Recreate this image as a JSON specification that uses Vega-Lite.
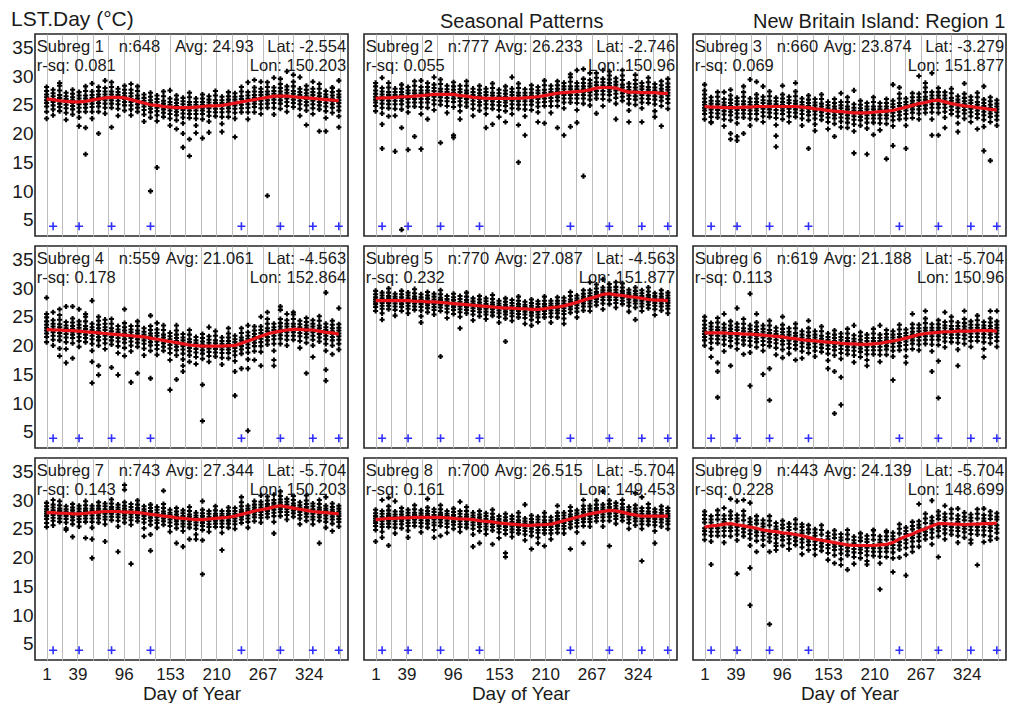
{
"$schema": "https://vega.github.io/schema/vega-lite/v6.json",
"padding": {"left": 10, "top": 8, "right": 0, "bottom": 0},
"background": "white",
"data": {"values": [
{"k":"pt","p":1,"d":1,"s":26.0,"v":[28.1,27.4,26.8,26.3,25.8,25.3,24.7,23.8,22.6]},
{"k":"pt","p":1,"d":9,"s":25.9,"v":[27.6,27.0,26.5,26.0,25.5,24.9,24.2,23.2]},
{"k":"pt","p":1,"d":17,"s":25.7,"v":[28.3,27.5,26.7,26.2,25.7,25.2,24.6,23.9,28.8]},
{"k":"pt","p":1,"d":25,"s":25.6,"v":[27.1,26.5,26.0,25.5,25.0,24.4,23.6,22.4]},
{"k":"pt","p":1,"d":33,"s":25.5,"v":[27.6,26.9,26.3,25.8,25.3,24.8,24.2,23.3]},
{"k":"pt","p":1,"d":41,"s":25.5,"v":[27.2,26.6,26.1,25.6,25.1,24.5,23.8,22.8,21.3]},
{"k":"pt","p":1,"d":49,"s":25.6,"v":[28.2,27.4,26.6,26.1,25.6,25.1,24.5,23.8,16.4,21.0]},
{"k":"pt","p":1,"d":57,"s":25.8,"v":[27.3,26.7,26.2,25.7,25.2,24.6,23.8,22.6,28.7]},
{"k":"pt","p":1,"d":65,"s":26.0,"v":[28.1,27.4,26.8,26.3,25.8,25.3,24.7,23.8,20.0]},
{"k":"pt","p":1,"d":73,"s":26.2,"v":[27.9,27.3,26.8,26.3,25.8,25.2,24.5,23.5,29.2]},
{"k":"pt","p":1,"d":81,"s":26.3,"v":[28.9,28.1,27.3,26.8,26.3,25.8,25.2,24.5,21.1]},
{"k":"pt","p":1,"d":89,"s":26.3,"v":[27.8,27.2,26.7,26.2,25.7,25.1,24.3,23.1]},
{"k":"pt","p":1,"d":97,"s":26.2,"v":[28.3,27.6,27.0,26.5,26.0,25.5,24.9,24.0]},
{"k":"pt","p":1,"d":105,"s":25.9,"v":[27.6,27.0,26.5,26.0,25.5,24.9,24.2,23.2,28.6]},
{"k":"pt","p":1,"d":113,"s":25.6,"v":[28.2,27.4,26.6,26.1,25.6,25.1,24.5,23.8]},
{"k":"pt","p":1,"d":121,"s":25.3,"v":[26.8,26.2,25.7,25.2,24.7,24.1,23.3,22.1]},
{"k":"pt","p":1,"d":129,"s":25.0,"v":[27.1,26.4,25.8,25.3,24.8,24.3,23.7,22.8,10.0]},
{"k":"pt","p":1,"d":137,"s":24.9,"v":[26.6,26.0,25.5,25.0,24.5,23.9,23.2,22.2,14.1]},
{"k":"pt","p":1,"d":145,"s":24.7,"v":[27.3,26.5,25.7,25.2,24.7,24.2,23.6,22.9]},
{"k":"pt","p":1,"d":153,"s":24.6,"v":[26.1,25.5,25.0,24.5,24.0,23.4,22.6,21.4,27.5]},
{"k":"pt","p":1,"d":161,"s":24.5,"v":[26.6,25.9,25.3,24.8,24.3,23.8,23.2,22.3,20.8]},
{"k":"pt","p":1,"d":169,"s":24.5,"v":[26.2,25.6,25.1,24.6,24.1,23.5,22.8,21.8,17.6,20.0]},
{"k":"pt","p":1,"d":177,"s":24.5,"v":[27.1,26.3,25.5,25.0,24.5,24.0,23.4,22.7,16.1,19.0]},
{"k":"pt","p":1,"d":185,"s":24.6,"v":[26.1,25.5,25.0,24.5,24.0,23.4,22.6,21.4,20.1]},
{"k":"pt","p":1,"d":193,"s":24.7,"v":[26.8,26.1,25.5,25.0,24.5,24.0,23.4,22.5,19.2]},
{"k":"pt","p":1,"d":201,"s":24.8,"v":[26.5,25.9,25.4,24.9,24.4,23.8,23.1,22.1,20.2]},
{"k":"pt","p":1,"d":209,"s":24.8,"v":[27.4,26.6,25.8,25.3,24.8,24.3,23.7,23.0]},
{"k":"pt","p":1,"d":217,"s":24.9,"v":[26.4,25.8,25.3,24.8,24.3,23.7,22.9,21.7,20.3]},
{"k":"pt","p":1,"d":225,"s":25.1,"v":[27.2,26.5,25.9,25.4,24.9,24.4,23.8,22.9]},
{"k":"pt","p":1,"d":233,"s":25.3,"v":[27.0,26.4,25.9,25.4,24.9,24.3,23.6,22.6,19.4]},
{"k":"pt","p":1,"d":241,"s":25.5,"v":[28.1,27.3,26.5,26.0,25.5,25.0,24.4,23.7]},
{"k":"pt","p":1,"d":249,"s":25.7,"v":[27.2,26.6,26.1,25.6,25.1,24.5,23.7,22.5,28.9]},
{"k":"pt","p":1,"d":257,"s":25.9,"v":[28.0,27.3,26.7,26.2,25.7,25.2,24.6,23.7,29.3]},
{"k":"pt","p":1,"d":265,"s":26.1,"v":[27.8,27.2,26.7,26.2,25.7,25.1,24.4,23.4,29.0]},
{"k":"pt","p":1,"d":273,"s":26.3,"v":[28.9,28.1,27.3,26.8,26.3,25.8,25.2,24.5,9.2]},
{"k":"pt","p":1,"d":281,"s":26.5,"v":[28.0,27.4,26.9,26.4,25.9,25.3,24.5,23.3,29.7]},
{"k":"pt","p":1,"d":289,"s":26.5,"v":[28.6,27.9,27.3,26.8,26.3,25.8,25.2,24.3,29.5]},
{"k":"pt","p":1,"d":297,"s":26.5,"v":[28.2,27.6,27.1,26.6,26.1,25.5,24.8,23.8,30.8]},
{"k":"pt","p":1,"d":305,"s":26.4,"v":[29.0,28.2,27.4,26.9,26.4,25.9,25.3,24.6,30.2]},
{"k":"pt","p":1,"d":313,"s":26.3,"v":[27.8,27.2,26.7,26.2,25.7,25.1,24.3,23.1,29.8]},
{"k":"pt","p":1,"d":321,"s":26.2,"v":[28.3,27.6,27.0,26.5,26.0,25.5,24.9,24.0,21.5]},
{"k":"pt","p":1,"d":329,"s":26.1,"v":[27.8,27.2,26.7,26.2,25.7,25.1,24.4,23.4,29.0]},
{"k":"pt","p":1,"d":337,"s":26.0,"v":[28.6,27.8,27.0,26.5,26.0,25.5,24.9,24.2,20.4]},
{"k":"pt","p":1,"d":345,"s":25.9,"v":[27.4,26.8,26.3,25.8,25.3,24.7,23.9,22.7,20.4]},
{"k":"pt","p":1,"d":353,"s":25.8,"v":[27.9,27.2,26.6,26.1,25.6,25.1,24.5,23.6,28.0]},
{"k":"pt","p":1,"d":361,"s":25.7,"v":[27.4,26.8,26.3,25.8,25.3,24.7,24.0,23.0,29.2,21.1]},

{"k":"pt","p":2,"d":1,"s":26.1,"v":[28.2,27.5,26.9,26.4,25.9,25.4,24.8,23.9,28.8]},
{"k":"pt","p":2,"d":9,"s":26.2,"v":[27.9,27.3,26.8,26.3,25.8,25.2,24.5,23.5,21.6,17.4,29.7]},
{"k":"pt","p":2,"d":17,"s":26.2,"v":[28.8,28.0,27.2,26.7,26.2,25.7,25.1,24.4,23.0]},
{"k":"pt","p":2,"d":25,"s":26.3,"v":[27.8,27.2,26.7,26.2,25.7,25.1,24.3,23.1,16.9]},
{"k":"pt","p":2,"d":33,"s":26.4,"v":[28.5,27.8,27.2,26.7,26.2,25.7,25.1,24.2,21.0,3.3]},
{"k":"pt","p":2,"d":41,"s":26.4,"v":[28.1,27.5,27.0,26.5,26.0,25.4,24.7,23.7,17.2]},
{"k":"pt","p":2,"d":49,"s":26.5,"v":[29.1,28.3,27.5,27.0,26.5,26.0,25.4,24.7,19.5]},
{"k":"pt","p":2,"d":57,"s":26.6,"v":[28.1,27.5,27.0,26.5,26.0,25.4,24.6,23.4,17.3,29.2]},
{"k":"pt","p":2,"d":65,"s":26.7,"v":[28.8,28.1,27.5,27.0,26.5,26.0,25.4,24.5,22.5]},
{"k":"pt","p":2,"d":73,"s":26.8,"v":[28.5,27.9,27.4,26.9,26.4,25.8,25.1,24.1,29.8]},
{"k":"pt","p":2,"d":81,"s":26.8,"v":[29.4,28.6,27.8,27.3,26.8,26.3,25.7,25.0,18.4]},
{"k":"pt","p":2,"d":89,"s":26.8,"v":[28.3,27.7,27.2,26.7,26.2,25.6,24.8,23.6]},
{"k":"pt","p":2,"d":97,"s":26.8,"v":[28.9,28.2,27.6,27.1,26.6,26.1,25.5,24.6,19.7,19.3]},
{"k":"pt","p":2,"d":105,"s":26.6,"v":[28.3,27.7,27.2,26.7,26.2,25.6,24.9,23.9,22.5]},
{"k":"pt","p":2,"d":113,"s":26.5,"v":[29.1,28.3,27.5,27.0,26.5,26.0,25.4,24.7]},
{"k":"pt","p":2,"d":121,"s":26.3,"v":[27.8,27.2,26.7,26.2,25.7,25.1,24.3,23.1]},
{"k":"pt","p":2,"d":129,"s":26.2,"v":[28.3,27.6,27.0,26.5,26.0,25.5,24.9,24.0]},
{"k":"pt","p":2,"d":137,"s":26.1,"v":[27.8,27.2,26.7,26.2,25.7,25.1,24.4,23.4,21.0]},
{"k":"pt","p":2,"d":145,"s":26.1,"v":[28.7,27.9,27.1,26.6,26.1,25.6,25.0,24.3,21.6]},
{"k":"pt","p":2,"d":153,"s":26.1,"v":[27.6,27.0,26.5,26.0,25.5,24.9,24.1,22.9]},
{"k":"pt","p":2,"d":161,"s":26.1,"v":[28.2,27.5,26.9,26.4,25.9,25.4,24.8,23.9,22.0]},
{"k":"pt","p":2,"d":169,"s":26.1,"v":[27.8,27.2,26.7,26.2,25.7,25.1,24.4,23.4,29.8]},
{"k":"pt","p":2,"d":177,"s":26.1,"v":[28.7,27.9,27.1,26.6,26.1,25.6,25.0,24.3,15.0,21.5]},
{"k":"pt","p":2,"d":185,"s":26.2,"v":[27.7,27.1,26.6,26.1,25.6,25.0,24.2,23.0,19.7]},
{"k":"pt","p":2,"d":193,"s":26.3,"v":[28.4,27.7,27.1,26.6,26.1,25.6,25.0,24.1]},
{"k":"pt","p":2,"d":201,"s":26.4,"v":[28.1,27.5,27.0,26.5,26.0,25.4,24.7,23.7,22.0]},
{"k":"pt","p":2,"d":209,"s":26.6,"v":[29.2,28.4,27.6,27.1,26.6,26.1,25.5,24.8,21.8]},
{"k":"pt","p":2,"d":217,"s":26.8,"v":[28.3,27.7,27.2,26.7,26.2,25.6,24.8,23.6]},
{"k":"pt","p":2,"d":225,"s":27.0,"v":[29.1,28.4,27.8,27.3,26.8,26.3,25.7,24.8,21.0]},
{"k":"pt","p":2,"d":233,"s":27.1,"v":[28.8,28.2,27.7,27.2,26.7,26.1,25.4,24.4,19.7]},
{"k":"pt","p":2,"d":241,"s":27.2,"v":[29.8,29.0,28.2,27.7,27.2,26.7,26.1,25.4,21.2,30.3]},
{"k":"pt","p":2,"d":249,"s":27.3,"v":[28.8,28.2,27.7,27.2,26.7,26.1,25.3,24.1,21.9,31.0]},
{"k":"pt","p":2,"d":257,"s":27.4,"v":[29.5,28.8,28.2,27.7,27.2,26.7,26.1,25.2,12.6,31.2]},
{"k":"pt","p":2,"d":265,"s":27.6,"v":[29.3,28.7,28.2,27.7,27.2,26.6,25.9,24.9,30.5]},
{"k":"pt","p":2,"d":273,"s":27.9,"v":[30.5,29.7,28.9,28.4,27.9,27.4,26.8,26.1,23.5]},
{"k":"pt","p":2,"d":281,"s":28.0,"v":[29.5,28.9,28.4,27.9,27.4,26.8,26.0,24.8,31.0]},
{"k":"pt","p":2,"d":289,"s":28.0,"v":[30.1,29.4,28.8,28.3,27.8,27.3,26.7,25.8,30.8]},
{"k":"pt","p":2,"d":297,"s":27.9,"v":[29.6,29.0,28.5,28.0,27.5,26.9,26.2,25.2,22.5]},
{"k":"pt","p":2,"d":305,"s":27.5,"v":[30.1,29.3,28.5,28.0,27.5,27.0,26.4,25.7,31.0]},
{"k":"pt","p":2,"d":313,"s":27.2,"v":[28.7,28.1,27.6,27.1,26.6,26.0,25.2,24.0,22.0]},
{"k":"pt","p":2,"d":321,"s":27.2,"v":[29.3,28.6,28.0,27.5,27.0,26.5,25.9,25.0,30.2]},
{"k":"pt","p":2,"d":329,"s":27.1,"v":[28.8,28.2,27.7,27.2,26.7,26.1,25.4,24.4,22.0]},
{"k":"pt","p":2,"d":337,"s":27.1,"v":[29.7,28.9,28.1,27.6,27.1,26.6,26.0,25.3]},
{"k":"pt","p":2,"d":345,"s":27.1,"v":[28.6,28.0,27.5,27.0,26.5,25.9,25.1,23.9,22.9]},
{"k":"pt","p":2,"d":353,"s":27.0,"v":[29.1,28.4,27.8,27.3,26.8,26.3,25.7,24.8,21.3]},
{"k":"pt","p":2,"d":361,"s":27.0,"v":[28.7,28.1,27.6,27.1,26.6,26.0,25.3,24.3,29.5]},

{"k":"pt","p":3,"d":1,"s":24.7,"v":[26.8,26.1,25.5,25.0,24.5,24.0,23.4,22.5,28.5,27.5]},
{"k":"pt","p":3,"d":9,"s":24.6,"v":[26.3,25.7,25.2,24.7,24.2,23.6,22.9,21.9,22.0]},
{"k":"pt","p":3,"d":17,"s":24.6,"v":[27.2,26.4,25.6,25.1,24.6,24.1,23.5,22.8]},
{"k":"pt","p":3,"d":25,"s":24.5,"v":[26.0,25.4,24.9,24.4,23.9,23.3,22.5,21.3,27.2]},
{"k":"pt","p":3,"d":33,"s":24.5,"v":[26.6,25.9,25.3,24.8,24.3,23.8,23.2,22.3,19.0,20.0,27.6]},
{"k":"pt","p":3,"d":41,"s":24.5,"v":[26.2,25.6,25.1,24.6,24.1,23.5,22.8,21.8,19.5,18.8]},
{"k":"pt","p":3,"d":49,"s":24.6,"v":[27.2,26.4,25.6,25.1,24.6,24.1,23.5,22.8,20.0,28.2]},
{"k":"pt","p":3,"d":57,"s":24.6,"v":[26.1,25.5,25.0,24.5,24.0,23.4,22.6,21.4,29.4]},
{"k":"pt","p":3,"d":65,"s":24.7,"v":[26.8,26.1,25.5,25.0,24.5,24.0,23.4,22.5,29.0]},
{"k":"pt","p":3,"d":73,"s":24.7,"v":[26.4,25.8,25.3,24.8,24.3,23.7,23.0,22.0,28.2]},
{"k":"pt","p":3,"d":81,"s":24.7,"v":[27.3,26.5,25.7,25.2,24.7,24.2,23.6,22.9]},
{"k":"pt","p":3,"d":89,"s":24.7,"v":[26.2,25.6,25.1,24.6,24.1,23.5,22.7,21.5,17.7,19.6]},
{"k":"pt","p":3,"d":97,"s":24.7,"v":[26.8,26.1,25.5,25.0,24.5,24.0,23.4,22.5,28.3]},
{"k":"pt","p":3,"d":105,"s":24.7,"v":[26.4,25.8,25.3,24.8,24.3,23.7,23.0,22.0]},
{"k":"pt","p":3,"d":113,"s":24.7,"v":[27.3,26.5,25.7,25.2,24.7,24.2,23.6,22.9,28.8]},
{"k":"pt","p":3,"d":121,"s":24.6,"v":[26.1,25.5,25.0,24.5,24.0,23.4,22.6,21.4]},
{"k":"pt","p":3,"d":129,"s":24.5,"v":[26.6,25.9,25.3,24.8,24.3,23.8,23.2,22.3,17.4]},
{"k":"pt","p":3,"d":137,"s":24.3,"v":[26.0,25.4,24.9,24.4,23.9,23.3,22.6,21.6,20.5]},
{"k":"pt","p":3,"d":145,"s":24.2,"v":[26.8,26.0,25.2,24.7,24.2,23.7,23.1,22.4]},
{"k":"pt","p":3,"d":153,"s":24.0,"v":[25.5,24.9,24.4,23.9,23.4,22.8,22.0,20.8]},
{"k":"pt","p":3,"d":161,"s":23.9,"v":[26.0,25.3,24.7,24.2,23.7,23.2,22.6,21.7,19.5]},
{"k":"pt","p":3,"d":169,"s":23.8,"v":[25.5,24.9,24.4,23.9,23.4,22.8,22.1,21.1,27.0]},
{"k":"pt","p":3,"d":177,"s":23.7,"v":[26.3,25.5,24.7,24.2,23.7,23.2,22.6,21.9,21.0]},
{"k":"pt","p":3,"d":185,"s":23.6,"v":[25.1,24.5,24.0,23.5,23.0,22.4,21.6,20.4,16.6,27.5]},
{"k":"pt","p":3,"d":193,"s":23.6,"v":[25.7,25.0,24.4,23.9,23.4,22.9,22.3,21.4]},
{"k":"pt","p":3,"d":201,"s":23.6,"v":[25.3,24.7,24.2,23.7,23.2,22.6,21.9,20.9,16.4]},
{"k":"pt","p":3,"d":209,"s":23.7,"v":[26.3,25.5,24.7,24.2,23.7,23.2,22.6,21.9,19.8]},
{"k":"pt","p":3,"d":217,"s":23.8,"v":[25.3,24.7,24.2,23.7,23.2,22.6,21.8,20.6]},
{"k":"pt","p":3,"d":225,"s":23.9,"v":[26.0,25.3,24.7,24.2,23.7,23.2,22.6,21.7,15.6]},
{"k":"pt","p":3,"d":233,"s":24.0,"v":[25.7,25.1,24.6,24.1,23.6,23.0,22.3,21.3,17.9,28.5]},
{"k":"pt","p":3,"d":241,"s":24.3,"v":[26.9,26.1,25.3,24.8,24.3,23.8,23.2,22.5,28.0]},
{"k":"pt","p":3,"d":249,"s":24.6,"v":[26.1,25.5,25.0,24.5,24.0,23.4,22.6,21.4,17.4]},
{"k":"pt","p":3,"d":257,"s":24.9,"v":[27.0,26.3,25.7,25.2,24.7,24.2,23.6,22.7]},
{"k":"pt","p":3,"d":265,"s":25.2,"v":[26.9,26.3,25.8,25.3,24.8,24.2,23.5,22.5,30.0]},
{"k":"pt","p":3,"d":273,"s":25.4,"v":[28.0,27.2,26.4,25.9,25.4,24.9,24.3,23.6,28.8]},
{"k":"pt","p":3,"d":281,"s":25.7,"v":[27.2,26.6,26.1,25.6,25.1,24.5,23.7,22.5,30.5,19.7]},
{"k":"pt","p":3,"d":289,"s":25.8,"v":[27.9,27.2,26.6,26.1,25.6,25.1,24.5,23.6,19.7]},
{"k":"pt","p":3,"d":297,"s":25.5,"v":[27.2,26.6,26.1,25.6,25.1,24.5,23.8,22.8,21.0]},
{"k":"pt","p":3,"d":305,"s":25.2,"v":[27.8,27.0,26.2,25.7,25.2,24.7,24.1,23.4]},
{"k":"pt","p":3,"d":313,"s":25.0,"v":[26.5,25.9,25.4,24.9,24.4,23.8,23.0,21.8,20.3]},
{"k":"pt","p":3,"d":321,"s":24.8,"v":[26.9,26.2,25.6,25.1,24.6,24.1,23.5,22.6,28.7]},
{"k":"pt","p":3,"d":329,"s":24.7,"v":[26.4,25.8,25.3,24.8,24.3,23.7,23.0,22.0]},
{"k":"pt","p":3,"d":337,"s":24.5,"v":[27.1,26.3,25.5,25.0,24.5,24.0,23.4,22.7,20.8]},
{"k":"pt","p":3,"d":345,"s":24.4,"v":[25.9,25.3,24.8,24.3,23.8,23.2,22.4,21.2,17.0,28.2]},
{"k":"pt","p":3,"d":353,"s":24.2,"v":[26.3,25.6,25.0,24.5,24.0,23.5,22.9,22.0,15.3]},
{"k":"pt","p":3,"d":361,"s":24.1,"v":[25.8,25.2,24.7,24.2,23.7,23.1,22.4,21.4]},

{"k":"pt","p":4,"d":1,"s":22.8,"v":[24.9,24.2,23.6,23.1,22.6,22.1,21.5,20.6,28.3,25.5]},
{"k":"pt","p":4,"d":9,"s":22.7,"v":[24.4,23.8,23.3,22.8,22.3,21.7,21.0,20.0,25.8]},
{"k":"pt","p":4,"d":17,"s":22.7,"v":[25.3,24.5,23.7,23.2,22.7,22.2,21.6,20.9,26.3,18.2,19.5]},
{"k":"pt","p":4,"d":25,"s":22.6,"v":[24.1,23.5,23.0,22.5,22.0,21.4,20.6,19.4,17.0,26.8]},
{"k":"pt","p":4,"d":33,"s":22.6,"v":[24.7,24.0,23.4,22.9,22.4,21.9,21.3,20.4,26.8,17.8]},
{"k":"pt","p":4,"d":41,"s":22.5,"v":[24.2,23.6,23.1,22.6,22.1,21.5,20.8,19.8,26.3]},
{"k":"pt","p":4,"d":49,"s":22.4,"v":[25.0,24.2,23.4,22.9,22.4,21.9,21.3,20.6,25.5]},
{"k":"pt","p":4,"d":57,"s":22.3,"v":[23.8,23.2,22.7,22.2,21.7,21.1,20.3,19.1,27.8,13.5,17.2]},
{"k":"pt","p":4,"d":65,"s":22.2,"v":[24.3,23.6,23.0,22.5,22.0,21.5,20.9,20.0,14.9,16.5,25.0]},
{"k":"pt","p":4,"d":73,"s":22.1,"v":[23.8,23.2,22.7,22.2,21.7,21.1,20.4,19.4,24.5]},
{"k":"pt","p":4,"d":81,"s":22.0,"v":[24.6,23.8,23.0,22.5,22.0,21.5,20.9,20.2,16.2]},
{"k":"pt","p":4,"d":89,"s":21.9,"v":[23.4,22.8,22.3,21.8,21.3,20.7,19.9,18.7,14.9]},
{"k":"pt","p":4,"d":97,"s":21.8,"v":[23.9,23.2,22.6,22.1,21.6,21.1,20.5,19.6,26.3,18.2]},
{"k":"pt","p":4,"d":105,"s":21.7,"v":[23.4,22.8,22.3,21.8,21.3,20.7,20.0,19.0,13.6]},
{"k":"pt","p":4,"d":113,"s":21.6,"v":[24.2,23.4,22.6,22.1,21.6,21.1,20.5,19.8,15.2]},
{"k":"pt","p":4,"d":121,"s":21.5,"v":[23.0,22.4,21.9,21.4,20.9,20.3,19.5,18.3]},
{"k":"pt","p":4,"d":129,"s":21.3,"v":[23.4,22.7,22.1,21.6,21.1,20.6,20.0,19.1,14.3,25.2]},
{"k":"pt","p":4,"d":137,"s":21.1,"v":[22.8,22.2,21.7,21.2,20.7,20.1,19.4,18.4,23.9]},
{"k":"pt","p":4,"d":145,"s":20.9,"v":[23.5,22.7,21.9,21.4,20.9,20.4,19.8,19.1]},
{"k":"pt","p":4,"d":153,"s":20.7,"v":[22.2,21.6,21.1,20.6,20.1,19.5,18.7,17.5,12.3]},
{"k":"pt","p":4,"d":161,"s":20.5,"v":[22.6,21.9,21.3,20.8,20.3,19.8,19.2,18.3,14.1,23.5]},
{"k":"pt","p":4,"d":169,"s":20.3,"v":[22.0,21.4,20.9,20.4,19.9,19.3,18.6,17.6,15.5,16.5]},
{"k":"pt","p":4,"d":177,"s":20.1,"v":[22.7,21.9,21.1,20.6,20.1,19.6,19.0,18.3,17.2]},
{"k":"pt","p":4,"d":185,"s":20.0,"v":[21.5,20.9,20.4,19.9,19.4,18.8,18.0,16.8]},
{"k":"pt","p":4,"d":193,"s":19.9,"v":[22.0,21.3,20.7,20.2,19.7,19.2,18.6,17.7,13.2,6.9]},
{"k":"pt","p":4,"d":201,"s":19.9,"v":[21.6,21.0,20.5,20.0,19.5,18.9,18.2,17.2,23.2]},
{"k":"pt","p":4,"d":209,"s":19.9,"v":[22.5,21.7,20.9,20.4,19.9,19.4,18.8,18.1]},
{"k":"pt","p":4,"d":217,"s":19.9,"v":[21.4,20.8,20.3,19.8,19.3,18.7,17.9,16.7]},
{"k":"pt","p":4,"d":225,"s":20.0,"v":[22.1,21.4,20.8,20.3,19.8,19.3,18.7,17.8,23.0]},
{"k":"pt","p":4,"d":233,"s":20.0,"v":[21.7,21.1,20.6,20.1,19.6,19.0,18.3,17.3,11.3,15.5]},
{"k":"pt","p":4,"d":241,"s":20.4,"v":[23.0,22.2,21.4,20.9,20.4,19.9,19.3,18.6,16.0]},
{"k":"pt","p":4,"d":249,"s":20.8,"v":[22.3,21.7,21.2,20.7,20.2,19.6,18.8,17.6,5.2,16.0,23.5]},
{"k":"pt","p":4,"d":257,"s":21.2,"v":[23.3,22.6,22.0,21.5,21.0,20.5,19.9,19.0,17.5]},
{"k":"pt","p":4,"d":265,"s":21.6,"v":[23.3,22.7,22.2,21.7,21.2,20.6,19.9,18.9,16.5,25.0]},
{"k":"pt","p":4,"d":273,"s":22.0,"v":[24.6,23.8,23.0,22.5,22.0,21.5,20.9,20.2,25.8]},
{"k":"pt","p":4,"d":281,"s":22.3,"v":[23.8,23.2,22.7,22.2,21.7,21.1,20.3,19.1,16.5,17.5]},
{"k":"pt","p":4,"d":289,"s":22.5,"v":[24.6,23.9,23.3,22.8,22.3,21.8,21.2,20.3,26.2,26.8]},
{"k":"pt","p":4,"d":297,"s":22.7,"v":[24.4,23.8,23.3,22.8,22.3,21.7,21.0,20.0,25.5]},
{"k":"pt","p":4,"d":305,"s":22.8,"v":[25.4,24.6,23.8,23.3,22.8,22.3,21.7,21.0,25.8]},
{"k":"pt","p":4,"d":313,"s":22.8,"v":[24.3,23.7,23.2,22.7,22.2,21.6,20.8,19.6]},
{"k":"pt","p":4,"d":321,"s":22.7,"v":[24.8,24.1,23.5,23.0,22.5,22.0,21.4,20.5,15.2]},
{"k":"pt","p":4,"d":329,"s":22.7,"v":[24.4,23.8,23.3,22.8,22.3,21.7,21.0,20.0,18.0]},
{"k":"pt","p":4,"d":337,"s":22.5,"v":[25.1,24.3,23.5,23.0,22.5,22.0,21.4,20.7]},
{"k":"pt","p":4,"d":345,"s":22.3,"v":[23.8,23.2,22.7,22.2,21.7,21.1,20.3,19.1,29.2,15.8,13.9]},
{"k":"pt","p":4,"d":353,"s":22.2,"v":[24.3,23.6,23.0,22.5,22.0,21.5,20.9,20.0,18.5]},
{"k":"pt","p":4,"d":361,"s":22.0,"v":[23.7,23.1,22.6,22.1,21.6,21.0,20.3,19.3,26.5]},

{"k":"pt","p":5,"d":1,"s":27.8,"v":[29.5,28.9,28.4,28.0,27.6,27.2,26.7,26.0]},
{"k":"pt","p":5,"d":9,"s":27.8,"v":[29.2,28.7,28.2,27.8,27.4,26.9,26.4,25.6,24.5]},
{"k":"pt","p":5,"d":17,"s":27.8,"v":[29.9,29.2,28.6,28.2,27.8,27.4,26.9,26.3]},
{"k":"pt","p":5,"d":25,"s":27.8,"v":[29.0,28.5,28.1,27.7,27.3,26.8,26.2,25.2]},
{"k":"pt","p":5,"d":33,"s":27.8,"v":[29.5,28.9,28.4,28.0,27.6,27.2,26.7,26.0]},
{"k":"pt","p":5,"d":41,"s":27.8,"v":[29.2,28.7,28.2,27.8,27.4,26.9,26.4,25.6]},
{"k":"pt","p":5,"d":49,"s":27.7,"v":[29.8,29.1,28.5,28.1,27.7,27.3,26.8,26.2]},
{"k":"pt","p":5,"d":57,"s":27.7,"v":[28.9,28.4,28.0,27.6,27.2,26.7,26.1,25.1,24.0]},
{"k":"pt","p":5,"d":65,"s":27.6,"v":[29.3,28.7,28.2,27.8,27.4,27.0,26.5,25.8]},
{"k":"pt","p":5,"d":73,"s":27.6,"v":[29.0,28.5,28.0,27.6,27.2,26.7,26.2,25.4]},
{"k":"pt","p":5,"d":81,"s":27.5,"v":[29.6,28.9,28.3,27.9,27.5,27.1,26.6,26.0,18.1]},
{"k":"pt","p":5,"d":89,"s":27.4,"v":[28.6,28.1,27.7,27.3,26.9,26.4,25.8,24.8]},
{"k":"pt","p":5,"d":97,"s":27.3,"v":[29.0,28.4,27.9,27.5,27.1,26.7,26.2,25.5]},
{"k":"pt","p":5,"d":105,"s":27.2,"v":[28.6,28.1,27.6,27.2,26.8,26.3,25.8,25.0,23.0]},
{"k":"pt","p":5,"d":113,"s":27.1,"v":[29.2,28.5,27.9,27.5,27.1,26.7,26.2,25.6]},
{"k":"pt","p":5,"d":121,"s":27.0,"v":[28.2,27.7,27.3,26.9,26.5,26.0,25.4,24.4]},
{"k":"pt","p":5,"d":129,"s":26.9,"v":[28.6,28.0,27.5,27.1,26.7,26.3,25.8,25.1]},
{"k":"pt","p":5,"d":137,"s":26.8,"v":[28.2,27.7,27.2,26.8,26.4,25.9,25.4,24.6]},
{"k":"pt","p":5,"d":145,"s":26.7,"v":[28.8,28.1,27.5,27.1,26.7,26.3,25.8,25.2]},
{"k":"pt","p":5,"d":153,"s":26.6,"v":[27.8,27.3,26.9,26.5,26.1,25.6,25.0,24.0]},
{"k":"pt","p":5,"d":161,"s":26.5,"v":[28.2,27.6,27.1,26.7,26.3,25.9,25.4,24.7,20.7]},
{"k":"pt","p":5,"d":169,"s":26.5,"v":[27.9,27.4,26.9,26.5,26.1,25.6,25.1,24.3]},
{"k":"pt","p":5,"d":177,"s":26.4,"v":[28.5,27.8,27.2,26.8,26.4,26.0,25.5,24.9]},
{"k":"pt","p":5,"d":185,"s":26.4,"v":[27.6,27.1,26.7,26.3,25.9,25.4,24.8,23.8]},
{"k":"pt","p":5,"d":193,"s":26.3,"v":[28.0,27.4,26.9,26.5,26.1,25.7,25.2,24.5,23.5]},
{"k":"pt","p":5,"d":201,"s":26.3,"v":[27.7,27.2,26.7,26.3,25.9,25.4,24.9,24.1]},
{"k":"pt","p":5,"d":209,"s":26.4,"v":[28.5,27.8,27.2,26.8,26.4,26.0,25.5,24.9]},
{"k":"pt","p":5,"d":217,"s":26.6,"v":[27.8,27.3,26.9,26.5,26.1,25.6,25.0,24.0]},
{"k":"pt","p":5,"d":225,"s":26.7,"v":[28.4,27.8,27.3,26.9,26.5,26.1,25.6,24.9]},
{"k":"pt","p":5,"d":233,"s":26.9,"v":[28.3,27.8,27.3,26.9,26.5,26.0,25.5,24.7,23.8]},
{"k":"pt","p":5,"d":241,"s":27.2,"v":[29.3,28.6,28.0,27.6,27.2,26.8,26.3,25.7]},
{"k":"pt","p":5,"d":249,"s":27.5,"v":[28.7,28.2,27.8,27.4,27.0,26.5,25.9,24.9]},
{"k":"pt","p":5,"d":257,"s":27.9,"v":[29.6,29.0,28.5,28.1,27.7,27.3,26.8,26.1]},
{"k":"pt","p":5,"d":265,"s":28.2,"v":[29.6,29.1,28.6,28.2,27.8,27.3,26.8,26.0,31.0]},
{"k":"pt","p":5,"d":273,"s":28.5,"v":[30.6,29.9,29.3,28.9,28.5,28.1,27.6,27.0]},
{"k":"pt","p":5,"d":281,"s":28.9,"v":[30.1,29.6,29.2,28.8,28.4,27.9,27.3,26.3,31.5]},
{"k":"pt","p":5,"d":289,"s":29.0,"v":[30.7,30.1,29.6,29.2,28.8,28.4,27.9,27.2]},
{"k":"pt","p":5,"d":297,"s":28.8,"v":[30.2,29.7,29.2,28.8,28.4,27.9,27.4,26.6,31.0]},
{"k":"pt","p":5,"d":305,"s":28.7,"v":[30.8,30.1,29.5,29.1,28.7,28.3,27.8,27.2]},
{"k":"pt","p":5,"d":313,"s":28.5,"v":[29.7,29.2,28.8,28.4,28.0,27.5,26.9,25.9]},
{"k":"pt","p":5,"d":321,"s":28.4,"v":[30.1,29.5,29.0,28.6,28.2,27.8,27.3,26.6,24.5]},
{"k":"pt","p":5,"d":329,"s":28.2,"v":[29.6,29.1,28.6,28.2,27.8,27.3,26.8,26.0]},
{"k":"pt","p":5,"d":337,"s":28.0,"v":[30.1,29.4,28.8,28.4,28.0,27.6,27.1,26.5]},
{"k":"pt","p":5,"d":345,"s":27.9,"v":[29.1,28.6,28.2,27.8,27.4,26.9,26.3,25.3]},
{"k":"pt","p":5,"d":353,"s":27.9,"v":[29.6,29.0,28.5,28.1,27.7,27.3,26.8,26.1]},
{"k":"pt","p":5,"d":361,"s":27.8,"v":[29.2,28.7,28.2,27.8,27.4,26.9,26.4,25.6]},

{"k":"pt","p":6,"d":1,"s":22.2,"v":[24.3,23.6,23.0,22.5,22.0,21.5,20.9,20.0,25.0]},
{"k":"pt","p":6,"d":9,"s":22.2,"v":[23.9,23.3,22.8,22.3,21.8,21.2,20.5,19.5,18.0]},
{"k":"pt","p":6,"d":17,"s":22.2,"v":[24.8,24.0,23.2,22.7,22.2,21.7,21.1,20.4,11.0,15.5,17.0]},
{"k":"pt","p":6,"d":25,"s":22.2,"v":[23.7,23.1,22.6,22.1,21.6,21.0,20.2,19.0,25.5]},
{"k":"pt","p":6,"d":33,"s":22.1,"v":[24.2,23.5,22.9,22.4,21.9,21.4,20.8,19.9,16.5]},
{"k":"pt","p":6,"d":41,"s":22.1,"v":[23.8,23.2,22.7,22.2,21.7,21.1,20.4,19.4,26.5]},
{"k":"pt","p":6,"d":49,"s":22.0,"v":[24.6,23.8,23.0,22.5,22.0,21.5,20.9,20.2,18.5]},
{"k":"pt","p":6,"d":57,"s":22.0,"v":[23.5,22.9,22.4,21.9,21.4,20.8,20.0,18.8,13.0,29.0]},
{"k":"pt","p":6,"d":65,"s":21.9,"v":[24.0,23.3,22.7,22.2,21.7,21.2,20.6,19.7,25.5]},
{"k":"pt","p":6,"d":73,"s":21.8,"v":[23.5,22.9,22.4,21.9,21.4,20.8,20.1,19.1,15.0]},
{"k":"pt","p":6,"d":81,"s":21.7,"v":[24.3,23.5,22.7,22.2,21.7,21.2,20.6,19.9,10.5,16.0]},
{"k":"pt","p":6,"d":89,"s":21.6,"v":[23.1,22.5,22.0,21.5,21.0,20.4,19.6,18.4]},
{"k":"pt","p":6,"d":97,"s":21.5,"v":[23.6,22.9,22.3,21.8,21.3,20.8,20.2,19.3,17.9,25.0]},
{"k":"pt","p":6,"d":105,"s":21.3,"v":[23.0,22.4,21.9,21.4,20.9,20.3,19.6,18.6]},
{"k":"pt","p":6,"d":113,"s":21.2,"v":[23.8,23.0,22.2,21.7,21.2,20.7,20.1,19.4,17.5]},
{"k":"pt","p":6,"d":121,"s":21.0,"v":[22.5,21.9,21.4,20.9,20.4,19.8,19.0,17.8]},
{"k":"pt","p":6,"d":129,"s":20.9,"v":[23.0,22.3,21.7,21.2,20.7,20.2,19.6,18.7,24.3]},
{"k":"pt","p":6,"d":137,"s":20.8,"v":[22.5,21.9,21.4,20.9,20.4,19.8,19.1,18.1]},
{"k":"pt","p":6,"d":145,"s":20.7,"v":[23.3,22.5,21.7,21.2,20.7,20.2,19.6,18.9]},
{"k":"pt","p":6,"d":153,"s":20.6,"v":[22.1,21.5,21.0,20.5,20.0,19.4,18.6,17.4,16.0]},
{"k":"pt","p":6,"d":161,"s":20.5,"v":[22.6,21.9,21.3,20.8,20.3,19.8,19.2,18.3,8.2,15.5]},
{"k":"pt","p":6,"d":169,"s":20.4,"v":[22.1,21.5,21.0,20.5,20.0,19.4,18.7,17.7,9.7,14.5]},
{"k":"pt","p":6,"d":177,"s":20.3,"v":[22.9,22.1,21.3,20.8,20.3,19.8,19.2,18.5]},
{"k":"pt","p":6,"d":185,"s":20.3,"v":[21.8,21.2,20.7,20.2,19.7,19.1,18.3,17.1,23.5]},
{"k":"pt","p":6,"d":193,"s":20.2,"v":[22.3,21.6,21.0,20.5,20.0,19.5,18.9,18.0]},
{"k":"pt","p":6,"d":201,"s":20.2,"v":[21.9,21.3,20.8,20.3,19.8,19.2,18.5,17.5,16.5]},
{"k":"pt","p":6,"d":209,"s":20.3,"v":[22.9,22.1,21.3,20.8,20.3,19.8,19.2,18.5]},
{"k":"pt","p":6,"d":217,"s":20.4,"v":[21.9,21.3,20.8,20.3,19.8,19.2,18.4,17.2,23.5]},
{"k":"pt","p":6,"d":225,"s":20.6,"v":[22.7,22.0,21.4,20.9,20.4,19.9,19.3,18.4]},
{"k":"pt","p":6,"d":233,"s":20.8,"v":[22.5,21.9,21.4,20.9,20.4,19.8,19.1,18.1,14.0]},
{"k":"pt","p":6,"d":241,"s":21.0,"v":[23.6,22.8,22.0,21.5,21.0,20.5,19.9,19.2]},
{"k":"pt","p":6,"d":249,"s":21.3,"v":[22.8,22.2,21.7,21.2,20.7,20.1,19.3,18.1,17.0]},
{"k":"pt","p":6,"d":257,"s":21.6,"v":[23.7,23.0,22.4,21.9,21.4,20.9,20.3,19.4,25.5]},
{"k":"pt","p":6,"d":265,"s":21.9,"v":[23.6,23.0,22.5,22.0,21.5,20.9,20.2,19.2]},
{"k":"pt","p":6,"d":273,"s":22.1,"v":[24.7,23.9,23.1,22.6,22.1,21.6,21.0,20.3,26.0]},
{"k":"pt","p":6,"d":281,"s":22.2,"v":[23.7,23.1,22.6,22.1,21.6,21.0,20.2,19.0,15.5]},
{"k":"pt","p":6,"d":289,"s":22.3,"v":[24.4,23.7,23.1,22.6,22.1,21.6,21.0,20.1,10.9,17.3]},
{"k":"pt","p":6,"d":297,"s":22.4,"v":[24.1,23.5,23.0,22.5,22.0,21.4,20.7,19.7,25.8]},
{"k":"pt","p":6,"d":305,"s":22.4,"v":[25.0,24.2,23.4,22.9,22.4,21.9,21.3,20.6]},
{"k":"pt","p":6,"d":313,"s":22.5,"v":[24.0,23.4,22.9,22.4,21.9,21.3,20.5,19.3,16.5]},
{"k":"pt","p":6,"d":321,"s":22.5,"v":[24.6,23.9,23.3,22.8,22.3,21.8,21.2,20.3,26.0]},
{"k":"pt","p":6,"d":329,"s":22.5,"v":[24.2,23.6,23.1,22.6,22.1,21.5,20.8,19.8]},
{"k":"pt","p":6,"d":337,"s":22.6,"v":[25.2,24.4,23.6,23.1,22.6,22.1,21.5,20.8]},
{"k":"pt","p":6,"d":345,"s":22.6,"v":[24.1,23.5,23.0,22.5,22.0,21.4,20.6,19.4,18.0]},
{"k":"pt","p":6,"d":353,"s":22.6,"v":[24.7,24.0,23.4,22.9,22.4,21.9,21.3,20.4,26.0]},
{"k":"pt","p":6,"d":361,"s":22.5,"v":[24.2,23.6,23.1,22.6,22.1,21.5,20.8,19.8,26.0]},

{"k":"pt","p":7,"d":1,"s":27.8,"v":[29.5,28.9,28.4,28.0,27.6,27.2,26.7,26.0,25.3]},
{"k":"pt","p":7,"d":9,"s":27.8,"v":[29.2,28.7,28.2,27.8,27.4,26.9,26.4,25.6,30.0]},
{"k":"pt","p":7,"d":17,"s":27.7,"v":[29.8,29.1,28.5,28.1,27.7,27.3,26.8,26.2]},
{"k":"pt","p":7,"d":25,"s":27.7,"v":[28.9,28.4,28.0,27.6,27.2,26.7,26.1,25.1,24.8]},
{"k":"pt","p":7,"d":33,"s":27.6,"v":[29.3,28.7,28.2,27.8,27.4,27.0,26.5,25.8,23.6]},
{"k":"pt","p":7,"d":41,"s":27.6,"v":[29.0,28.5,28.0,27.6,27.2,26.7,26.2,25.4]},
{"k":"pt","p":7,"d":49,"s":27.7,"v":[29.8,29.1,28.5,28.1,27.7,27.3,26.8,26.2,23.4]},
{"k":"pt","p":7,"d":57,"s":27.8,"v":[29.0,28.5,28.1,27.7,27.3,26.8,26.2,25.2,19.9,23.2]},
{"k":"pt","p":7,"d":65,"s":27.9,"v":[29.6,29.0,28.5,28.1,27.7,27.3,26.8,26.1]},
{"k":"pt","p":7,"d":73,"s":28.0,"v":[29.4,28.9,28.4,28.0,27.6,27.1,26.6,25.8,22.8]},
{"k":"pt","p":7,"d":81,"s":28.0,"v":[30.1,29.4,28.8,28.4,28.0,27.6,27.1,26.5]},
{"k":"pt","p":7,"d":89,"s":28.0,"v":[29.2,28.7,28.3,27.9,27.5,27.0,26.4,25.4,21.0]},
{"k":"pt","p":7,"d":97,"s":27.9,"v":[29.6,29.0,28.5,28.1,27.7,27.3,26.8,26.1,32.6,31.8]},
{"k":"pt","p":7,"d":105,"s":27.9,"v":[29.3,28.8,28.3,27.9,27.5,27.0,26.5,25.7,18.9]},
{"k":"pt","p":7,"d":113,"s":27.8,"v":[29.9,29.2,28.6,28.2,27.8,27.4,26.9,26.3]},
{"k":"pt","p":7,"d":121,"s":27.7,"v":[28.9,28.4,28.0,27.6,27.2,26.7,26.1,25.1,23.7]},
{"k":"pt","p":7,"d":129,"s":27.5,"v":[29.2,28.6,28.1,27.7,27.3,26.9,26.4,25.7,21.2,24.0]},
{"k":"pt","p":7,"d":137,"s":27.4,"v":[28.8,28.3,27.8,27.4,27.0,26.5,26.0,25.2]},
{"k":"pt","p":7,"d":145,"s":27.2,"v":[29.3,28.6,28.0,27.6,27.2,26.8,26.3,25.7,31.6]},
{"k":"pt","p":7,"d":153,"s":27.1,"v":[28.3,27.8,27.4,27.0,26.6,26.1,25.5,24.5]},
{"k":"pt","p":7,"d":161,"s":26.9,"v":[28.6,28.0,27.5,27.1,26.7,26.3,25.8,25.1,22.5]},
{"k":"pt","p":7,"d":169,"s":26.8,"v":[28.2,27.7,27.2,26.8,26.4,25.9,25.4,24.6,21.9]},
{"k":"pt","p":7,"d":177,"s":26.7,"v":[28.8,28.1,27.5,27.1,26.7,26.3,25.8,25.2,23.2]},
{"k":"pt","p":7,"d":185,"s":26.6,"v":[27.8,27.3,26.9,26.5,26.1,25.6,25.0,24.0,23.2]},
{"k":"pt","p":7,"d":193,"s":26.6,"v":[28.3,27.7,27.2,26.8,26.4,26.0,25.5,24.8,17.1,23.0,29.8]},
{"k":"pt","p":7,"d":201,"s":26.7,"v":[28.1,27.6,27.1,26.7,26.3,25.8,25.3,24.5]},
{"k":"pt","p":7,"d":209,"s":26.8,"v":[28.9,28.2,27.6,27.2,26.8,26.4,25.9,25.3]},
{"k":"pt","p":7,"d":217,"s":26.9,"v":[28.1,27.6,27.2,26.8,26.4,25.9,25.3,24.3,21.3]},
{"k":"pt","p":7,"d":225,"s":27.0,"v":[28.7,28.1,27.6,27.2,26.8,26.4,25.9,25.2]},
{"k":"pt","p":7,"d":233,"s":27.2,"v":[28.6,28.1,27.6,27.2,26.8,26.3,25.8,25.0]},
{"k":"pt","p":7,"d":241,"s":27.5,"v":[29.6,28.9,28.3,27.9,27.5,27.1,26.6,26.0,30.5]},
{"k":"pt","p":7,"d":249,"s":27.8,"v":[29.0,28.5,28.1,27.7,27.3,26.8,26.2,25.2]},
{"k":"pt","p":7,"d":257,"s":28.1,"v":[29.8,29.2,28.7,28.3,27.9,27.5,27.0,26.3]},
{"k":"pt","p":7,"d":265,"s":28.3,"v":[29.7,29.2,28.7,28.3,27.9,27.4,26.9,26.1,30.8]},
{"k":"pt","p":7,"d":273,"s":28.5,"v":[30.6,29.9,29.3,28.9,28.5,28.1,27.6,27.0]},
{"k":"pt","p":7,"d":281,"s":28.8,"v":[30.0,29.5,29.1,28.7,28.3,27.8,27.2,26.2,30.9,24.2]},
{"k":"pt","p":7,"d":289,"s":29.0,"v":[30.7,30.1,29.6,29.2,28.8,28.4,27.9,27.2,31.5]},
{"k":"pt","p":7,"d":297,"s":28.8,"v":[30.2,29.7,29.2,28.8,28.4,27.9,27.4,26.6]},
{"k":"pt","p":7,"d":305,"s":28.6,"v":[30.7,30.0,29.4,29.0,28.6,28.2,27.7,27.1]},
{"k":"pt","p":7,"d":313,"s":28.4,"v":[29.6,29.1,28.7,28.3,27.9,27.4,26.8,25.8]},
{"k":"pt","p":7,"d":321,"s":28.2,"v":[29.9,29.3,28.8,28.4,28.0,27.6,27.1,26.4,30.8]},
{"k":"pt","p":7,"d":329,"s":28.0,"v":[29.4,28.9,28.4,28.0,27.6,27.1,26.6,25.8]},
{"k":"pt","p":7,"d":337,"s":27.9,"v":[30.0,29.3,28.7,28.3,27.9,27.5,27.0,26.4,22.5]},
{"k":"pt","p":7,"d":345,"s":27.8,"v":[29.0,28.5,28.1,27.7,27.3,26.8,26.2,25.2,30.5]},
{"k":"pt","p":7,"d":353,"s":27.7,"v":[29.4,28.8,28.3,27.9,27.5,27.1,26.6,25.9,24.6]},
{"k":"pt","p":7,"d":361,"s":27.6,"v":[29.0,28.5,28.0,27.6,27.2,26.7,26.2,25.4]},

{"k":"pt","p":8,"d":1,"s":26.6,"v":[28.3,27.7,27.2,26.8,26.4,26.0,25.5,24.8,22.8]},
{"k":"pt","p":8,"d":9,"s":26.7,"v":[28.1,27.6,27.1,26.7,26.3,25.8,25.3,24.5,23.5,30.0]},
{"k":"pt","p":8,"d":17,"s":26.8,"v":[28.9,28.2,27.6,27.2,26.8,26.4,25.9,25.3,22.1,30.4]},
{"k":"pt","p":8,"d":25,"s":26.8,"v":[28.0,27.5,27.1,26.7,26.3,25.8,25.2,24.2,29.8]},
{"k":"pt","p":8,"d":33,"s":26.9,"v":[28.6,28.0,27.5,27.1,26.7,26.3,25.8,25.1]},
{"k":"pt","p":8,"d":41,"s":26.9,"v":[28.3,27.8,27.3,26.9,26.5,26.0,25.5,24.7,23.5]},
{"k":"pt","p":8,"d":49,"s":27.0,"v":[29.1,28.4,27.8,27.4,27.0,26.6,26.1,25.5]},
{"k":"pt","p":8,"d":57,"s":27.0,"v":[28.2,27.7,27.3,26.9,26.5,26.0,25.4,24.4]},
{"k":"pt","p":8,"d":65,"s":27.0,"v":[28.7,28.1,27.6,27.2,26.8,26.4,25.9,25.2,30.2]},
{"k":"pt","p":8,"d":73,"s":27.0,"v":[28.4,27.9,27.4,27.0,26.6,26.1,25.6,24.8,23.5]},
{"k":"pt","p":8,"d":81,"s":27.0,"v":[29.1,28.4,27.8,27.4,27.0,26.6,26.1,25.5,23.8]},
{"k":"pt","p":8,"d":89,"s":26.9,"v":[28.1,27.6,27.2,26.8,26.4,25.9,25.3,24.3]},
{"k":"pt","p":8,"d":97,"s":26.8,"v":[28.5,27.9,27.4,27.0,26.6,26.2,25.7,25.0]},
{"k":"pt","p":8,"d":105,"s":26.7,"v":[28.1,27.6,27.1,26.7,26.3,25.8,25.3,24.5,29.7]},
{"k":"pt","p":8,"d":113,"s":26.7,"v":[28.8,28.1,27.5,27.1,26.7,26.3,25.8,25.2]},
{"k":"pt","p":8,"d":121,"s":26.6,"v":[27.8,27.3,26.9,26.5,26.1,25.6,25.0,24.0,21.9]},
{"k":"pt","p":8,"d":129,"s":26.4,"v":[28.1,27.5,27.0,26.6,26.2,25.8,25.3,24.6,22.5]},
{"k":"pt","p":8,"d":137,"s":26.3,"v":[27.7,27.2,26.7,26.3,25.9,25.4,24.9,24.1]},
{"k":"pt","p":8,"d":145,"s":26.2,"v":[28.3,27.6,27.0,26.6,26.2,25.8,25.3,24.7,22.3]},
{"k":"pt","p":8,"d":153,"s":26.0,"v":[27.2,26.7,26.3,25.9,25.5,25.0,24.4,23.4]},
{"k":"pt","p":8,"d":161,"s":25.9,"v":[27.6,27.0,26.5,26.1,25.7,25.3,24.8,24.1,20.1,20.8]},
{"k":"pt","p":8,"d":169,"s":25.8,"v":[27.2,26.7,26.2,25.8,25.4,24.9,24.4,23.6]},
{"k":"pt","p":8,"d":177,"s":25.7,"v":[27.8,27.1,26.5,26.1,25.7,25.3,24.8,24.2]},
{"k":"pt","p":8,"d":185,"s":25.6,"v":[26.8,26.3,25.9,25.5,25.1,24.6,24.0,23.0,29.2]},
{"k":"pt","p":8,"d":193,"s":25.6,"v":[27.3,26.7,26.2,25.8,25.4,25.0,24.5,23.8,21.5]},
{"k":"pt","p":8,"d":201,"s":25.7,"v":[27.1,26.6,26.1,25.7,25.3,24.8,24.3,23.5,22.5]},
{"k":"pt","p":8,"d":209,"s":25.7,"v":[27.8,27.1,26.5,26.1,25.7,25.3,24.8,24.2,22.0]},
{"k":"pt","p":8,"d":217,"s":25.8,"v":[27.0,26.5,26.1,25.7,25.3,24.8,24.2,23.2]},
{"k":"pt","p":8,"d":225,"s":26.1,"v":[27.8,27.2,26.7,26.3,25.9,25.5,25.0,24.3,29.0]},
{"k":"pt","p":8,"d":233,"s":26.4,"v":[27.8,27.3,26.8,26.4,26.0,25.5,25.0,24.2]},
{"k":"pt","p":8,"d":241,"s":26.7,"v":[28.8,28.1,27.5,27.1,26.7,26.3,25.8,25.2,21.5]},
{"k":"pt","p":8,"d":249,"s":27.0,"v":[28.2,27.7,27.3,26.9,26.5,26.0,25.4,24.4]},
{"k":"pt","p":8,"d":257,"s":27.3,"v":[29.0,28.4,27.9,27.5,27.1,26.7,26.2,25.5,22.5,30.0]},
{"k":"pt","p":8,"d":265,"s":27.6,"v":[29.0,28.5,28.0,27.6,27.2,26.7,26.2,25.4]},
{"k":"pt","p":8,"d":273,"s":27.8,"v":[29.9,29.2,28.6,28.2,27.8,27.4,26.9,26.3]},
{"k":"pt","p":8,"d":281,"s":28.0,"v":[29.2,28.7,28.3,27.9,27.5,27.0,26.4,25.4,31.5]},
{"k":"pt","p":8,"d":289,"s":28.2,"v":[29.9,29.3,28.8,28.4,28.0,27.6,27.1,26.4,22.0]},
{"k":"pt","p":8,"d":297,"s":28.1,"v":[29.5,29.0,28.5,28.1,27.7,27.2,26.7,25.9]},
{"k":"pt","p":8,"d":305,"s":27.9,"v":[30.0,29.3,28.7,28.3,27.9,27.5,27.0,26.4]},
{"k":"pt","p":8,"d":313,"s":27.6,"v":[28.8,28.3,27.9,27.5,27.1,26.6,26.0,25.0]},
{"k":"pt","p":8,"d":321,"s":27.4,"v":[29.1,28.5,28.0,27.6,27.2,26.8,26.3,25.6,31.2]},
{"k":"pt","p":8,"d":329,"s":27.2,"v":[28.6,28.1,27.6,27.2,26.8,26.3,25.8,25.0,19.4,30.5]},
{"k":"pt","p":8,"d":337,"s":27.2,"v":[29.3,28.6,28.0,27.6,27.2,26.8,26.3,25.7]},
{"k":"pt","p":8,"d":345,"s":27.2,"v":[28.4,27.9,27.5,27.1,26.7,26.2,25.6,24.6,22.5]},
{"k":"pt","p":8,"d":353,"s":27.2,"v":[28.9,28.3,27.8,27.4,27.0,26.6,26.1,25.4]},
{"k":"pt","p":8,"d":361,"s":27.2,"v":[28.6,28.1,27.6,27.2,26.8,26.3,25.8,25.0]},

{"k":"pt","p":9,"d":1,"s":25.3,"v":[27.4,26.7,26.1,25.1,24.6,24.0,23.1,28.0]},
{"k":"pt","p":9,"d":9,"s":25.5,"v":[27.2,26.6,26.1,25.1,24.5,23.8,22.8,18.8]},
{"k":"pt","p":9,"d":17,"s":25.6,"v":[28.2,27.4,26.6,25.6,25.1,24.5,23.8]},
{"k":"pt","p":9,"d":25,"s":25.8,"v":[27.3,26.7,26.2,25.2,24.6,23.8,22.6,28.6]},
{"k":"pt","p":9,"d":33,"s":25.9,"v":[28.0,27.3,26.7,25.7,25.2,24.6,23.7,30.2]},
{"k":"pt","p":9,"d":41,"s":25.7,"v":[27.4,26.8,26.3,25.3,24.7,24.0,23.0,17.2,29.8]},
{"k":"pt","p":9,"d":49,"s":25.5,"v":[28.1,27.3,26.5,25.5,25.0,24.4,23.7,30.0]},
{"k":"pt","p":9,"d":57,"s":25.3,"v":[26.8,26.2,25.7,24.7,24.1,23.3,22.1,18.2,11.7,29.5]},
{"k":"pt","p":9,"d":65,"s":25.1,"v":[27.2,26.5,25.9,24.9,24.4,23.8,22.9,21.0]},
{"k":"pt","p":9,"d":73,"s":24.8,"v":[26.5,25.9,25.4,24.4,23.8,23.1,22.1]},
{"k":"pt","p":9,"d":81,"s":24.6,"v":[27.2,26.4,25.6,24.6,24.1,23.5,22.8,8.4,21.0]},
{"k":"pt","p":9,"d":89,"s":24.5,"v":[26.0,25.4,24.9,23.9,23.3,22.5,21.3,22.0]},
{"k":"pt","p":9,"d":97,"s":24.3,"v":[26.4,25.7,25.1,24.1,23.6,23.0,22.1]},
{"k":"pt","p":9,"d":105,"s":24.2,"v":[25.9,25.3,24.8,23.8,23.2,22.5,21.5,21.5]},
{"k":"pt","p":9,"d":113,"s":24.0,"v":[26.6,25.8,25.0,24.0,23.5,22.9,22.2]},
{"k":"pt","p":9,"d":121,"s":23.8,"v":[25.3,24.7,24.2,23.2,22.6,21.8,20.6,25.8]},
{"k":"pt","p":9,"d":129,"s":23.5,"v":[25.6,24.9,24.3,23.3,22.8,22.2,21.3]},
{"k":"pt","p":9,"d":137,"s":23.2,"v":[24.9,24.3,23.8,22.8,22.2,21.5,20.5]},
{"k":"pt","p":9,"d":145,"s":23.0,"v":[25.6,24.8,24.0,23.0,22.5,21.9,21.2]},
{"k":"pt","p":9,"d":153,"s":22.8,"v":[24.3,23.7,23.2,22.2,21.6,20.8,19.6]},
{"k":"pt","p":9,"d":161,"s":22.6,"v":[24.7,24.0,23.4,22.4,21.9,21.3,20.4,19.0]},
{"k":"pt","p":9,"d":169,"s":22.4,"v":[24.1,23.5,23.0,22.0,21.4,20.7,19.7,18.7]},
{"k":"pt","p":9,"d":177,"s":22.2,"v":[24.8,24.0,23.2,22.2,21.7,21.1,20.4,17.9]},
{"k":"pt","p":9,"d":185,"s":22.1,"v":[23.6,23.0,22.5,21.5,20.9,20.1,18.9]},
{"k":"pt","p":9,"d":193,"s":22.1,"v":[24.2,23.5,22.9,21.9,21.4,20.8,19.9]},
{"k":"pt","p":9,"d":201,"s":22.1,"v":[23.8,23.2,22.7,21.7,21.1,20.4,19.4,18.8]},
{"k":"pt","p":9,"d":209,"s":22.1,"v":[24.7,23.9,23.1,22.1,21.6,21.0,20.3,24.8]},
{"k":"pt","p":9,"d":217,"s":22.2,"v":[23.7,23.1,22.6,21.6,21.0,20.2,19.0,14.5]},
{"k":"pt","p":9,"d":225,"s":22.3,"v":[24.4,23.7,23.1,22.1,21.6,21.0,20.1,24.6]},
{"k":"pt","p":9,"d":233,"s":22.6,"v":[24.3,23.7,23.2,22.2,21.6,20.9,19.9,17.5]},
{"k":"pt","p":9,"d":241,"s":23.2,"v":[25.8,25.0,24.2,23.2,22.7,22.1,21.4,20.0]},
{"k":"pt","p":9,"d":249,"s":23.7,"v":[25.2,24.6,24.1,23.1,22.5,21.7,20.5,16.9]},
{"k":"pt","p":9,"d":257,"s":24.1,"v":[26.2,25.5,24.9,23.9,23.4,22.8,21.9,21.0]},
{"k":"pt","p":9,"d":265,"s":24.6,"v":[26.3,25.7,25.2,24.2,23.6,22.9,21.9,29.3]},
{"k":"pt","p":9,"d":273,"s":25.0,"v":[27.6,26.8,26.0,25.0,24.5,23.9,23.2]},
{"k":"pt","p":9,"d":281,"s":25.5,"v":[27.0,26.4,25.9,24.9,24.3,23.5,22.3,29.9]},
{"k":"pt","p":9,"d":289,"s":25.9,"v":[28.0,27.3,26.7,25.7,25.2,24.6,23.7,20.1]},
{"k":"pt","p":9,"d":297,"s":25.9,"v":[27.6,27.0,26.5,25.5,24.9,24.2,23.2,29.0]},
{"k":"pt","p":9,"d":305,"s":25.8,"v":[28.4,27.6,26.8,25.8,25.3,24.7,24.0]},
{"k":"pt","p":9,"d":313,"s":25.8,"v":[27.3,26.7,26.2,25.2,24.6,23.8,22.6,28.5]},
{"k":"pt","p":9,"d":321,"s":25.7,"v":[27.8,27.1,26.5,25.5,25.0,24.4,23.5]},
{"k":"pt","p":9,"d":329,"s":25.8,"v":[27.5,26.9,26.4,25.4,24.8,24.1,23.1,22.5]},
{"k":"pt","p":9,"d":337,"s":25.8,"v":[28.4,27.6,26.8,25.8,25.3,24.7,24.0,18.7]},
{"k":"pt","p":9,"d":345,"s":25.9,"v":[27.4,26.8,26.3,25.3,24.7,23.9,22.7,28.5]},
{"k":"pt","p":9,"d":353,"s":25.9,"v":[28.0,27.3,26.7,25.7,25.2,24.6,23.7,23.0]},
{"k":"pt","p":9,"d":361,"s":26.0,"v":[27.7,27.1,26.6,25.6,25.0,24.3,23.3]},

{"k":"mk","p":1,"m":[9,41,81,129,241,289,329,361]},
{"k":"mk","p":2,"m":[9,41,81,129,241,289,329,361]},
{"k":"mk","p":3,"m":[9,41,81,129,241,289,329,361]},
{"k":"mk","p":4,"m":[9,41,81,129,241,289,329,361]},
{"k":"mk","p":5,"m":[9,41,81,129,241,289,329,361]},
{"k":"mk","p":6,"m":[9,41,81,129,241,289,329,361]},
{"k":"mk","p":7,"m":[9,41,81,129,241,289,329,361]},
{"k":"mk","p":8,"m":[9,41,81,129,241,289,329,361]},
{"k":"mk","p":9,"m":[9,41,81,129,241,289,329,361]},

{"k":"lab","p":1,"a":"Subreg 1","n":"n:648","g":"Avg: 24.93","l":"Lat: -2.554","r":"r-sq: 0.081","o":"Lon: 150.203"},
{"k":"lab","p":2,"a":"Subreg 2","n":"n:777","g":"Avg: 26.233","l":"Lat: -2.746","r":"r-sq: 0.055","o":"Lon: 150.96"},
{"k":"lab","p":3,"a":"Subreg 3","n":"n:660","g":"Avg: 23.874","l":"Lat: -3.279","r":"r-sq: 0.069","o":"Lon: 151.877"},
{"k":"lab","p":4,"a":"Subreg 4","n":"n:559","g":"Avg: 21.061","l":"Lat: -4.563","r":"r-sq: 0.178","o":"Lon: 152.864"},
{"k":"lab","p":5,"a":"Subreg 5","n":"n:770","g":"Avg: 27.087","l":"Lat: -4.563","r":"r-sq: 0.232","o":"Lon: 151.877"},
{"k":"lab","p":6,"a":"Subreg 6","n":"n:619","g":"Avg: 21.188","l":"Lat: -5.704","r":"r-sq: 0.113","o":"Lon: 150.96"},
{"k":"lab","p":7,"a":"Subreg 7","n":"n:743","g":"Avg: 27.344","l":"Lat: -5.704","r":"r-sq: 0.143","o":"Lon: 150.203"},
{"k":"lab","p":8,"a":"Subreg 8","n":"n:700","g":"Avg: 26.515","l":"Lat: -5.704","r":"r-sq: 0.161","o":"Lon: 149.453"},
{"k":"lab","p":9,"a":"Subreg 9","n":"n:443","g":"Avg: 24.139","l":"Lat: -5.704","r":"r-sq: 0.228","o":"Lon: 148.699"},

{"k":"ttl","p":1,"t":"LST.Day (°C)"},
{"k":"ttl","p":2,"t":"Seasonal Patterns"},
{"k":"ttl","p":3,"t":"New Britain Island: Region 1"}
]},
"transform": [
  {"calculate": "floor((datum.p - 1) / 3)", "as": "R"},
  {"calculate": "(datum.p - 1) % 3", "as": "C"}
],
"facet": {
  "row": {"field": "R", "type": "ordinal", "header": {"labels": false, "title": null, "labelPadding": 0, "titlePadding": 0}},
  "column": {"field": "C", "type": "ordinal", "header": {"labels": false, "title": null, "labelPadding": 0, "titlePadding": 0}}
},
"spacing": {"row": 10, "column": 16},
"bounds": "flush",
"spec": {
  "width": 313,
  "height": 202,
  "layer": [
    {
      "transform": [{"filter": "datum.k === 'pt' && isArray(datum.v)"}, {"flatten": ["v"], "as": ["val"]}],
      "mark": {"type": "point", "shape": "cross", "filled": true, "size": 26, "fill": "#000000", "strokeWidth": 0, "opacity": 1},
      "encoding": {
        "x": {"field": "d", "type": "quantitative", "title": "Day of Year",
              "scale": {"domain": [-13.3, 372.3], "nice": false, "zero": false},
              "axis": {"values": [1,20,39,58,77,96,115,134,153,172,191,210,229,248,267,286,305,324,343,362],
                       "tickCount": 40,
                       "labelExpr": "indexof([1,39,96,153,210,267,324], datum.value) >= 0 ? datum.label : ''"}},
        "y": {"field": "val", "type": "quantitative", "title": null,
              "scale": {"domain": [2.2, 37.3], "nice": false, "zero": false},
              "axis": {"values": [5,10,15,20,25,30,35], "tickCount": 20}}
      }
    },
    {
      "transform": [{"filter": "datum.k == 'pt'"}],
      "mark": {"type": "line", "color": "#e8141a", "strokeWidth": 3.2},
      "encoding": {
        "x": {"field": "d", "type": "quantitative"},
        "y": {"field": "s", "type": "quantitative"}
      }
    },
    {
      "transform": [{"filter": "datum.k == 'mk'"}, {"flatten": ["m"]}],
      "mark": {"type": "point", "shape": "M-1,0L1,0M0,-1L0,1", "filled": false, "stroke": "#2e2eff", "strokeWidth": 1.6, "size": 64, "opacity": 1},
      "encoding": {
        "x": {"field": "m", "type": "quantitative"},
        "y": {"datum": 3.9}
      }
    },
    {
      "transform": [{"filter": "datum.k == 'lab'"}],
      "mark": {"type": "text", "align": "left", "baseline": "alphabetic", "fontSize": 16.5},
      "encoding": {"x": {"datum": -11}, "y": {"datum": 34.1}, "text": {"field": "a"}}
    },
    {
      "transform": [{"filter": "datum.k == 'lab'"}],
      "mark": {"type": "text", "align": "left", "baseline": "alphabetic", "fontSize": 16.5},
      "encoding": {"x": {"datum": 90}, "y": {"datum": 34.1}, "text": {"field": "n"}}
    },
    {
      "transform": [{"filter": "datum.k == 'lab'"}],
      "mark": {"type": "text", "align": "right", "baseline": "alphabetic", "fontSize": 16.5},
      "encoding": {"x": {"datum": 256}, "y": {"datum": 34.1}, "text": {"field": "g"}}
    },
    {
      "transform": [{"filter": "datum.k == 'lab'"}],
      "mark": {"type": "text", "align": "right", "baseline": "alphabetic", "fontSize": 16.5},
      "encoding": {"x": {"datum": 370}, "y": {"datum": 34.1}, "text": {"field": "l"}}
    },
    {
      "transform": [{"filter": "datum.k == 'lab'"}],
      "mark": {"type": "text", "align": "left", "baseline": "alphabetic", "fontSize": 16.5},
      "encoding": {"x": {"datum": -11}, "y": {"datum": 30.9}, "text": {"field": "r"}}
    },
    {
      "transform": [{"filter": "datum.k == 'lab'"}],
      "mark": {"type": "text", "align": "right", "baseline": "alphabetic", "fontSize": 16.5},
      "encoding": {"x": {"datum": 370}, "y": {"datum": 30.9}, "text": {"field": "o"}}
    },
    {
      "transform": [{"filter": "datum.k == 'ttl' && datum.p == 1"}],
      "mark": {"type": "text", "align": "left", "baseline": "alphabetic", "fontSize": 21},
      "encoding": {"x": {"datum": -42.9}, "y": {"datum": 38.7}, "text": {"field": "t"}}
    },
    {
      "transform": [{"filter": "datum.k == 'ttl' && datum.p == 2"}],
      "mark": {"type": "text", "align": "center", "baseline": "alphabetic", "fontSize": 20},
      "encoding": {"x": {"datum": 181}, "y": {"datum": 38.3}, "text": {"field": "t"}}
    },
    {
      "transform": [{"filter": "datum.k == 'ttl' && datum.p == 3"}],
      "mark": {"type": "text", "align": "right", "baseline": "alphabetic", "fontSize": 20},
      "encoding": {"x": {"datum": 371.5}, "y": {"datum": 38.3}, "text": {"field": "t"}}
    }
  ]
},
"config": {
  "font": "Liberation Sans",
  "view": {"stroke": "#262626", "strokeWidth": 1.6},
  "axis": {"labelFont": "Liberation Sans", "labelColor": "#1a1a1a", "titleFont": "Liberation Sans", "titleColor": "#1a1a1a", "titleFontWeight": "normal", "ticks": false, "domain": false},
  "axisX": {"grid": true, "gridColor": "#bdbdbd", "gridWidth": 1, "labelFontSize": 17, "labelPadding": 6, "titleFontSize": 19, "titlePadding": 2, "labelFlush": false, "labelOverlap": false},
  "axisY": {"grid": false, "labelFontSize": 19, "labelPadding": 2},
  "text": {"color": "#1a1a1a", "font": "Liberation Sans"}
}
}
